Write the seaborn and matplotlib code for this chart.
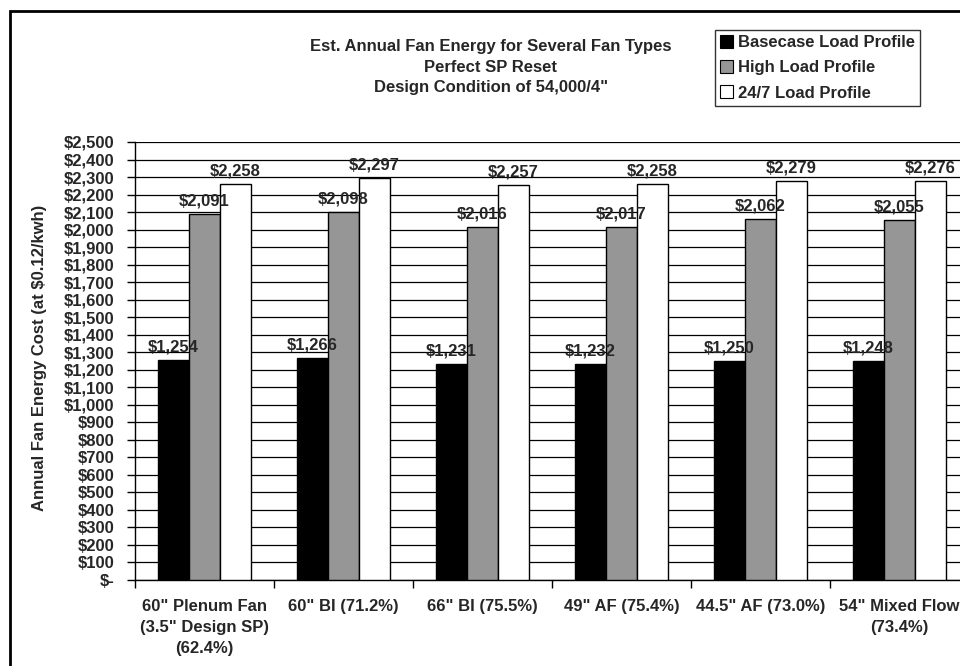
import pandas as pd
import matplotlib.pyplot as plt
import matplotlib.patches as mpatches
import seaborn as sns
from matplotlib.ticker import FuncFormatter, MultipleLocator, FixedLocator

# 数据
fans = ['60" Plenum Fan\n(3.5" Design SP)\n(62.4%)', '60" BI (71.2%)', '66" BI (75.5%)',
        '49" AF (75.4%)', '44.5" AF (73.0%)', '54" Mixed Flow\n(73.4%)']
profiles = ['Basecase Load Profile', 'High Load Profile', '24/7 Load Profile']
basecase = [1254, 1266, 1231, 1232, 1250, 1248]
high_load = [2091, 2098, 2016, 2017, 2062, 2055]
full_time = [2258, 2297, 2257, 2258, 2279, 2276]
colors = ['#000000', '#969696', '#ffffff']

rows = []
for series, vals in zip(profiles, [basecase, high_load, full_time]):
    for fan, v in zip(fans, vals):
        rows.append({'Fan': fan, 'Profile': series, 'Cost': v})
df = pd.DataFrame(rows)

sns.set_style('white')
plt.rcParams['font.family'] = ['Liberation Sans', 'DejaVu Sans']
plt.rcParams['font.weight'] = 'bold'

fig = plt.figure(figsize=(9.6, 6.66), dpi=100)
ax = fig.add_axes([135 / 960, 86 / 666, 834 / 960, 438 / 666])

sns.barplot(data=df, x='Fan', y='Cost', hue='Profile', order=fans, hue_order=profiles,
            palette=colors, width=0.67, edgecolor='black', linewidth=1,
            saturation=1, legend=False, ax=ax, zorder=3)

ax.set_xlim(-0.5, len(fans) - 0.5)
ax.set_ylim(0, 2500)
ax.yaxis.set_major_locator(MultipleLocator(100))
ax.yaxis.set_major_formatter(FuncFormatter(lambda v, p: '$-' if v == 0 else f'${v:,.0f}'))
ax.grid(axis='y', color='black', linewidth=0.9, zorder=0)
ax.set_axisbelow(True)

# 数据标签
for container in ax.containers:
    labels = [f'${b.get_height():,.0f}' for b in container]
    ax.bar_label(container, labels=labels, padding=4, fontsize=12, fontweight='bold', zorder=5)

# 坐标轴
for side in ['top', 'right']:
    ax.spines[side].set_visible(False)
for side in ['left', 'bottom']:
    ax.spines[side].set_color('black')
    ax.spines[side].set_linewidth(1)
ax.tick_params(axis='y', which='major', direction='out', length=6, width=1, color='black',
               left=True, labelsize=12, pad=9)
ax.tick_params(axis='x', which='major', length=0, pad=14, labelsize=12)
ax.xaxis.set_minor_locator(FixedLocator([i - 0.5 for i in range(len(fans) + 1)]))
ax.tick_params(axis='x', which='minor', direction='out', length=6, width=1, color='black',
               bottom=True)
for lbl in ax.get_xticklabels():
    lbl.set_ha('center')
    lbl.set_multialignment('center')
    lbl.set_linespacing(1.5)
for lbl in ax.get_xticklabels() + ax.get_yticklabels():
    lbl.set_fontweight('bold')

ax.set_xlabel('')
ax.set_ylabel('')
fig.text(40 / 960, 1 - 358 / 666, 'Annual Fan Energy Cost (at $0.12/kwh)', rotation=90,
         ha='center', va='center', fontsize=12, fontweight='bold')

# 标题
fig.text(491 / 960, 1 - 67 / 666,
         'Est. Annual Fan Energy for Several Fan Types\nPerfect SP Reset\nDesign Condition of 54,000/4"',
         ha='center', va='center', fontsize=12, fontweight='bold', linespacing=1.48)

# 图例
handles = [mpatches.Patch(facecolor=c, edgecolor='black', linewidth=0.8, label=p)
           for c, p in zip(colors, profiles)]
leg = fig.legend(handles=handles, loc='upper left', bbox_to_anchor=(715 / 960, 1 - 30 / 666),
                 frameon=True, fancybox=False, handlelength=0.8, handleheight=0.8,
                 handletextpad=0.25, labelspacing=0.6, borderpad=0.3, borderaxespad=0,
                 prop={'size': 12, 'weight': 'bold'})
leg.get_frame().set_edgecolor('black')
leg.get_frame().set_linewidth(1)

# 外框
fig.patches.append(mpatches.Rectangle((10 / 960, -0.1), 1.2, 1 - 11 / 666 + 0.1,
                                      transform=fig.transFigure, fill=False,
                                      edgecolor='black', linewidth=2))

fig.savefig('out.png', dpi=100)
